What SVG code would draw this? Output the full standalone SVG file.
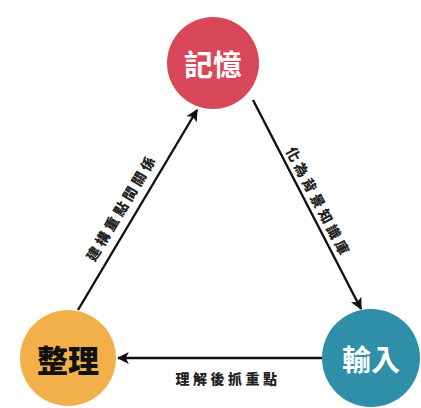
<svg xmlns="http://www.w3.org/2000/svg" width="421" height="408" viewBox="0 0 421 408">
<defs>
<marker id="ah" viewBox="0 0 10 10" refX="9" refY="5" markerWidth="5" markerHeight="5" orient="auto" markerUnits="strokeWidth">
<path d="M0,0 L10,5 L0,10 L2.5,5 z" fill="#111"/>
</marker>
<style>
.edge{stroke:#111;stroke-width:2.4;fill:none;marker-end:url(#ah)}
.lbl{font-family:"Noto Sans CJK TC","Noto Sans CJK SC",sans-serif;font-weight:900;font-size:14px;fill:#222;letter-spacing:3.5px;text-anchor:middle;dominant-baseline:central}
.nt{font-family:"Noto Sans CJK TC","Noto Sans CJK SC",sans-serif;font-weight:700;font-size:29px;text-anchor:middle;dominant-baseline:central}
</style>
</defs>
<rect width="421" height="408" fill="#fff"/>
<g id="connectors">
<line class="edge" x1="253" y1="100" x2="361" y2="309"/>
<line class="edge" x1="322" y1="358" x2="118" y2="358"/>
<line class="edge" x1="78" y1="310" x2="197" y2="110"/>
<text class="lbl" transform="translate(121,207) rotate(-59)">建構重點間關係</text>
<text class="lbl" transform="translate(319,202) rotate(62.5)">化為背景知識庫</text>
<text class="lbl" x="228" y="378">理解後抓重點</text>
</g>
<g id="memory">
<circle cx="213" cy="63" r="46" fill="#d9485a"/>
<text class="nt" x="213" y="63" fill="#fff">記憶</text>
</g>
<g id="input">
<circle cx="371" cy="358" r="49" fill="#2f8fa9"/>
<text class="nt" x="371" y="358" fill="#fff">輸入</text>
</g>
<g id="organize">
<circle cx="68" cy="358" r="48" fill="#f2b04b"/>
<text class="nt" x="68" y="358" fill="#111" style="font-weight:900;font-size:31px">整理</text>
</g>
</svg>
